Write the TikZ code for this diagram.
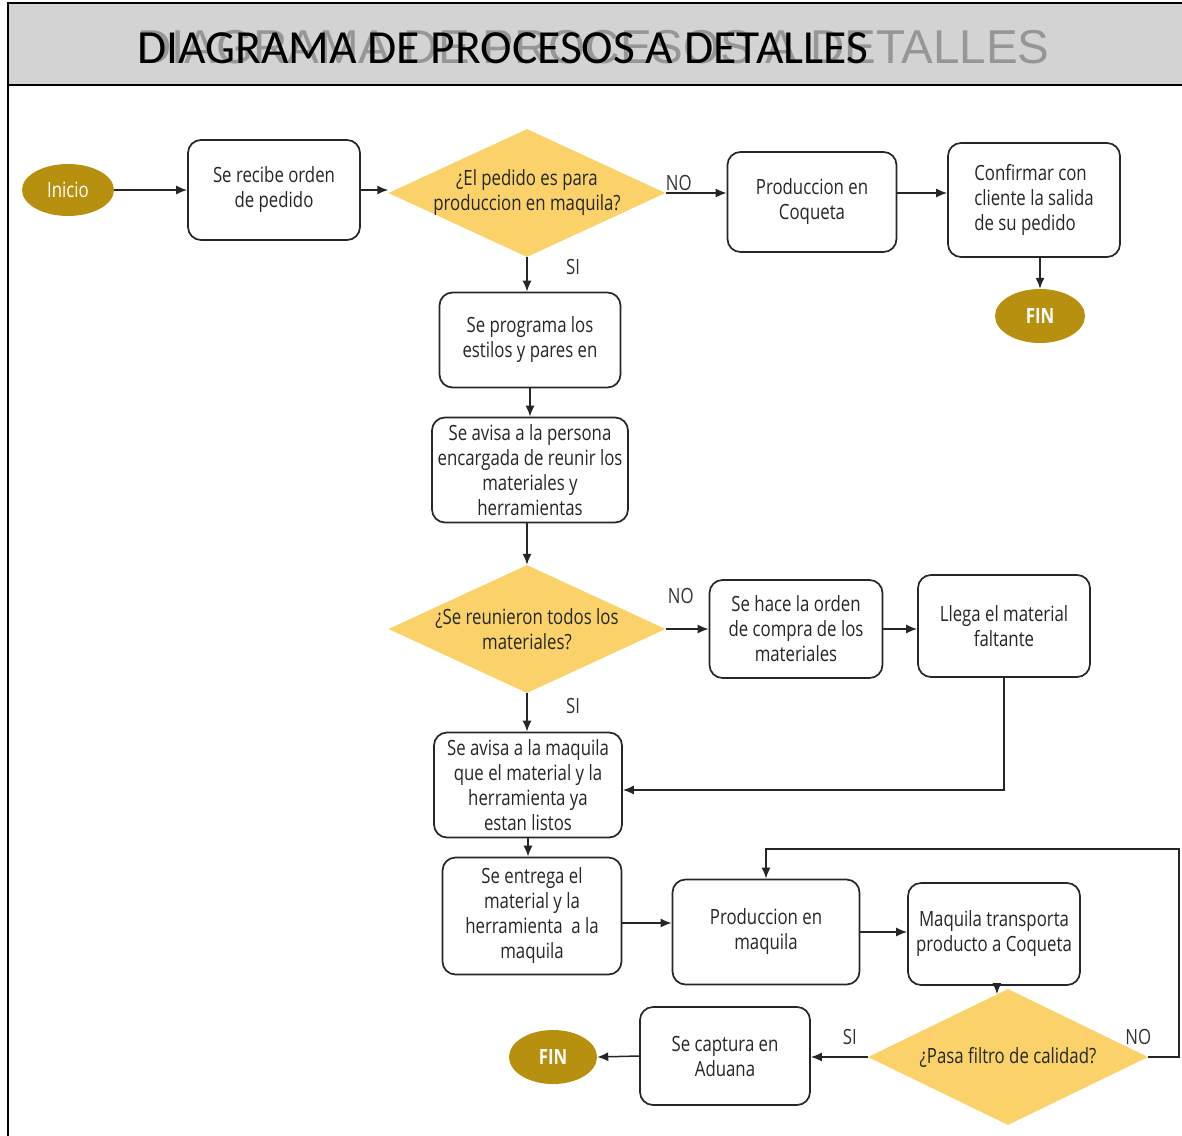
\documentclass[tikz,border=0pt]{standalone}
\usepackage{fontspec}
\usepackage{tikz}
\usetikzlibrary{shapes.geometric}
\usetikzlibrary{calc}
\usetikzlibrary{arrows.meta}
\setmainfont{Open Sans}[FakeStretch=0.8]
\newfontfamily\titlefont{Carlito}
\newfontfamily\ghostfont{Liberation Sans}
\definecolor{headgray}{RGB}{212,211,212}
\definecolor{ghostgray}{RGB}{150,150,150}
\definecolor{termgold}{RGB}{184,144,16}
\definecolor{decgold}{RGB}{250,210,105}

\begin{document}
\begin{tikzpicture}[x=1pt, y=-1pt,
  every node/.style={font=\fontsize{21}{25}\selectfont},
  proc/.style={draw=black!85, line width=1.7pt, rounded corners=13pt, fill=white, text=black!85, align=center, inner sep=0pt},
  deci/.style={diamond, fill=decgold, text=black!85, align=center, inner sep=-12pt, shape aspect=2.16},
  term/.style={ellipse, fill=termgold, text=white, inner sep=0pt},
  flow/.style={draw=black!85, line width=1.5pt, -{Latex[length=11pt,width=9pt]}},
  lbl/.style={text=black!80}]
  \useasboundingbox (0,0) rectangle (1182,1135);

  \draw [fill=headgray, line width=1.6pt] (8,3) rectangle (1195,85);
  \draw [line width=2pt] (8,85) -- (8,1140);
  \node [anchor=base west, inner sep=0pt, text=ghostgray, font=\ghostfont\fontsize{47.5}{50}\selectfont] (sombra) at (137,63) {DIAGRAMA DE PROCESOS A DETALLES};
  \node [anchor=base west, inner sep=0pt, font=\titlefont\fontsize{47.5}{50}\selectfont] (titulo) at (137,63) {DIAGRAMA DE PROCESOS A DETALLES};

  \node [term, minimum width=92pt, minimum height=52pt] (inicio) at (68,190) {Inicio};
  \node [proc, minimum width=172pt, minimum height=100pt] (recibe) at (274,190) {Se recibe orden\\de pedido};
  \node [deci, minimum width=277pt, minimum height=128pt] (pedido) at (527,193) {¿El pedido es para\\produccion en maquila?};
  \node [proc, minimum width=169pt, minimum height=100pt] (coqueta) at (812,202) {Produccion en\\Coqueta};
  \node [proc, align=left, minimum width=172pt, minimum height=114pt] (confirmar) at (1034,200) {Confirmar con\\cliente la salida\\de su pedido};
  \node [term, font=\fontsize{21}{25}\selectfont\bfseries, minimum width=90pt, minimum height=54pt] (fin1) at (1040,316) {FIN};

  \node [proc, minimum width=181pt, minimum height=95pt] (programa) at (530,340) {Se programa los\\estilos y pares en};
  \node [proc, minimum width=196pt, minimum height=105pt] (persona) at (530,470) {Se avisa a la persona\\encargada de reunir los\\materiales y\\herramientas};
  \node [deci, minimum width=277pt, minimum height=128pt] (reunieron) at (527,629) {¿Se reunieron todos los\\materiales?};
  \node [proc, minimum width=173pt, minimum height=98pt] (compra) at (796,629) {Se hace la orden\\de compra de los\\materiales};
  \node [proc, minimum width=172pt, minimum height=102pt] (llega) at (1004,626) {Llega el material\\faltante};

  \node [proc, minimum width=188pt, minimum height=105pt] (maqavisa) at (528,785) {Se avisa a la maquila\\que el material y la\\herramienta ya\\estan listos};
  \node [proc, minimum width=179pt, minimum height=117pt] (entrega) at (532,916) {Se entrega el\\material y la\\herramienta\ \ a la\\maquila};
  \node [proc, minimum width=187pt, minimum height=105pt] (prodmaq) at (766,932) {Produccion en\\maquila};
  \node [proc, minimum width=172pt, minimum height=102pt] (transp) at (994,934) {Maquila transporta\\producto a Coqueta};
  \node [deci, minimum width=280pt, minimum height=136pt] (calidad) at (1008,1057) {¿Pasa filtro de calidad?};
  \node [proc, minimum width=170pt, minimum height=98pt] (captura) at (725,1056) {Se captura en\\Aduana};
  \node [term, font=\fontsize{21}{25}\selectfont\bfseries, minimum width=88pt, minimum height=54pt] (fin2) at (553,1057) {FIN};

  \node [lbl] (nopedido) at ($ (pedido.east)+(13,-10) $) {NO};
  \node [lbl] (sipedido) at ($ (pedido.south)+(46,10) $) {SI};
  \node [lbl] (noreunieron) at ($ (reunieron.east)+(15,-33) $) {NO};
  \node [lbl] (sireunieron) at ($ (reunieron.south)+(46,13) $) {SI};
  \node [lbl] (sicalidad) at ($ (calidad.west)+(-18,-20) $) {SI};
  \node [lbl] (nocalidad) at ($ (calidad.east)+(-10,-20) $) {NO};

  \draw [flow] (inicio) -- (recibe);
  \draw [flow] (recibe) -- (recibe -| pedido.west);
  \draw [flow] (pedido.east) -- (pedido.east -| coqueta.west);
  \draw [flow] (coqueta.east |- pedido.east) -- (confirmar.west |- pedido.east);
  \draw [flow] (confirmar.south -| fin1.north) -- (fin1.north);
  \draw [flow] (pedido.south) -- (pedido.south |- programa.north);
  \draw [flow] (programa.south -| persona.north) -- (persona.north);
  \draw [flow] (persona.south -| reunieron.north) -- (reunieron.north);
  \draw [flow] (reunieron.east) -- (reunieron.east -| compra.west);
  \draw [flow] (compra.east) -- (compra.east -| llega.west);
  \draw [flow] (llega.south) |- ($ (maqavisa.east)+(0,5) $);
  \draw [flow] (reunieron.south) -- (reunieron.south |- maqavisa.north);
  \draw [flow] (maqavisa.south) -- (maqavisa.south |- entrega.north);
  \draw [flow] ($ (entrega.east)+(0,7) $) -- ($ (entrega.east -| prodmaq.west)+(0,7) $);
  \draw [flow] (prodmaq.east) -- (prodmaq.east -| transp.west);
  \draw [flow] (calidad.100 |- transp.south) -- (calidad.100);
  \coordinate (vuelta) at (1179,849);
  \draw [flow] (calidad.east) -| (vuelta) -| (prodmaq.north);
  \draw [flow] (calidad.west) -- (calidad.west -| captura.east);
  \draw [flow] (captura.west) -- (fin2.east);
\end{tikzpicture}
\end{document}
